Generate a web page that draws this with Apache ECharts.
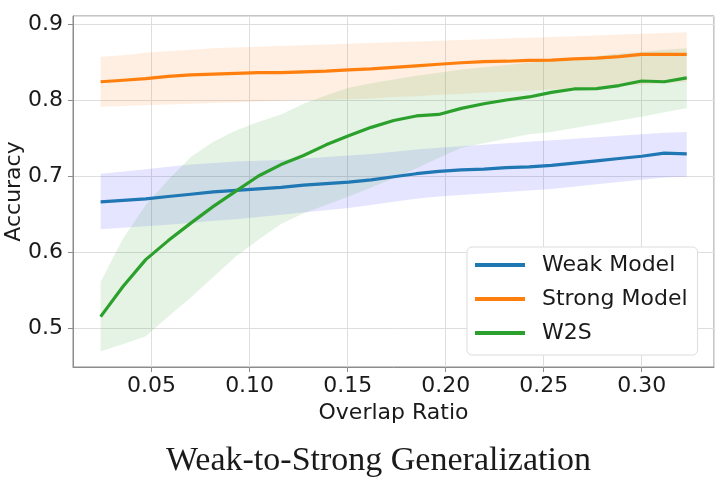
<!DOCTYPE html>
<html lang="en">
<head>
    <meta charset="utf-8">
    <script src="https://cdn.jsdelivr.net/npm/echarts@6/dist/echarts.min.js"></script>
    <title>weak_to_strong</title>
</head>
<body>
<style>
    html, body {
        margin: 0;
        background: #fff;
    }
    #main {
        width: 717px;
        height: 481px;
    }
</style>
<div id='main'></div>
<script>
    // overlap ratio (x) and mean / band values
    var ratios = [0.024, 0.0355, 0.047, 0.0585, 0.070, 0.0815, 0.093, 0.1045, 0.116, 0.1275, 0.139, 0.1505, 0.162, 0.1735,
        0.185, 0.1965, 0.208, 0.2195, 0.231, 0.2425, 0.254, 0.2655, 0.277, 0.2885, 0.300, 0.3115, 0.323];

    var weakMean = [0.666, 0.668, 0.670, 0.673, 0.676, 0.679, 0.681, 0.683, 0.685, 0.688, 0.690, 0.692, 0.695, 0.699,
        0.703, 0.706, 0.708, 0.709, 0.711, 0.712, 0.714, 0.717, 0.720, 0.723, 0.726, 0.730, 0.729];
    var weakLow = [0.630, 0.632, 0.634, 0.636, 0.638, 0.641, 0.643, 0.646, 0.649, 0.652, 0.655, 0.658, 0.662, 0.666,
        0.670, 0.673, 0.675, 0.677, 0.679, 0.681, 0.683, 0.686, 0.689, 0.692, 0.695, 0.698, 0.699];
    var weakHigh = [0.703, 0.706, 0.709, 0.712, 0.715, 0.717, 0.719, 0.720, 0.721, 0.723, 0.725, 0.727, 0.729, 0.732,
        0.735, 0.737, 0.739, 0.741, 0.743, 0.745, 0.747, 0.749, 0.751, 0.753, 0.755, 0.757, 0.758];

    var strongMean = [0.824, 0.826, 0.828, 0.831, 0.833, 0.834, 0.835, 0.836, 0.836, 0.837, 0.838, 0.8395, 0.841, 0.843,
        0.845, 0.847, 0.849, 0.8505, 0.851, 0.852, 0.8525, 0.854, 0.855, 0.857, 0.860, 0.860, 0.860];
    var strongLow = [0.791, 0.792, 0.793, 0.794, 0.795, 0.796, 0.797, 0.798, 0.799, 0.800, 0.800, 0.801, 0.802, 0.804,
        0.805, 0.807, 0.808, 0.810, 0.811, 0.812, 0.814, 0.815, 0.817, 0.819, 0.820, 0.822, 0.824];
    var strongHigh = [0.857, 0.859, 0.862, 0.864, 0.866, 0.868, 0.869, 0.870, 0.871, 0.872, 0.873, 0.874, 0.875, 0.876,
        0.877, 0.878, 0.879, 0.880, 0.881, 0.882, 0.883, 0.884, 0.885, 0.886, 0.887, 0.888, 0.889];

    var w2sMean = [0.515, 0.555, 0.590, 0.615, 0.638, 0.660, 0.680, 0.700, 0.715, 0.727, 0.741, 0.753, 0.764, 0.773,
        0.779, 0.781, 0.789, 0.795, 0.800, 0.804, 0.810, 0.8145, 0.815, 0.819, 0.825, 0.824, 0.829];
    var w2sLow = [0.469, 0.479, 0.489, 0.515, 0.540, 0.567, 0.594, 0.616, 0.637, 0.651, 0.662, 0.673, 0.685, 0.697,
        0.710, 0.724, 0.737, 0.743, 0.749, 0.755, 0.758, 0.763, 0.768, 0.773, 0.778, 0.784, 0.789];
    var w2sHigh = [0.561, 0.618, 0.662, 0.695, 0.725, 0.745, 0.760, 0.771, 0.781, 0.795, 0.806, 0.816, 0.822, 0.827,
        0.832, 0.836, 0.840, 0.843, 0.846, 0.849, 0.852, 0.855, 0.858, 0.861, 0.863, 0.866, 0.868];

    var seriesNames = ['Weak Model', 'Strong Model', 'W2S'];

    function toPairs(ys) {
        return ratios.map(function (x, i) { return [x, ys[i]]; });
    }

    // shaded band between low and high, drawn as one polygon through the axes
    function band(low, high, fill) {
        return {
            type: 'custom',
            silent: true,
            z: 1,
            data: ratios.map(function (x, i) { return [x, low[i], high[i]]; }),
            encode: {x: 0, y: [1, 2]},
            renderItem: function (params, api) {
                if (params.dataIndex !== 0) return;
                var top = ratios.map(function (x, i) { return api.coord([x, high[i]]); });
                var bottom = ratios.map(function (x, i) { return api.coord([x, low[i]]); }).reverse();
                return {
                    type: 'polygon',
                    shape: {points: top.concat(bottom)},
                    style: {fill: fill}
                };
            }
        };
    }

    function line(name, ys, color) {
        return {
            name: name,
            type: 'line',
            z: 3,
            data: toPairs(ys),
            showSymbol: false,
            lineStyle: {width: 3.2, color: color},
            itemStyle: {color: color}
        };
    }

    var tickFont = {fontFamily: 'DejaVu Sans', fontSize: 22, color: '#1a1a1a'};

    var chart = echarts.init(document.getElementById('main'));
    var option = {
        animation: false,
        backgroundColor: '#fff',
        title: {
            text: 'Weak-to-Strong Generalization',
            left: 166,
            top: 444,
            padding: 0,
            textStyle: {fontFamily: 'Liberation Serif', fontSize: 34, fontWeight: 'normal', color: '#1a1a1a'}
        },
        grid: {
            left: 73, right: 3, top: 16, bottom: 114,
            outerBoundsMode: 'none',
            containLabel: false,
            show: true, borderColor: '#8c8c8c', borderWidth: 1
        },
        legend: {
            data: seriesNames,
            orient: 'vertical',
            left: 467,
            top: 247,
            padding: [6, 10, 10, 8],
            itemWidth: 50,
            itemHeight: 4,
            itemGap: 10,
            icon: 'rect',
            backgroundColor: '#fff',
            borderColor: '#dcdcdc',
            borderWidth: 1,
            borderRadius: 5,
            textStyle: {fontFamily: 'DejaVu Sans', fontSize: 22, color: '#1a1a1a', lineHeight: 24, padding: [0, 0, 0, 12]}
        },
        xAxis: {
            type: 'value',
            min: 0.0099,
            max: 0.3369,
            name: 'Overlap Ratio',
            nameLocation: 'middle',
            nameGap: 33,
            nameTextStyle: tickFont,
            axisLine: {lineStyle: {color: '#8c8c8c'}},
            axisTick: {show: true, length: 5, lineStyle: {color: '#8c8c8c'}},
            axisLabel: Object.assign({
                margin: 8, showMinLabel: false, showMaxLabel: false,
                formatter: function (v) { return v.toFixed(2); }
            }, tickFont),
            splitLine: {show: true, lineStyle: {color: '#dedede'}}
        },
        yAxis: {
            type: 'value',
            min: 0.4487,
            max: 0.9105,
            name: 'Accuracy',
            nameLocation: 'middle',
            nameGap: 48,
            nameMoveOverlap: false,
            nameTextStyle: tickFont,
            axisLine: {show: true, lineStyle: {color: '#8c8c8c'}},
            axisTick: {show: true, length: 5, lineStyle: {color: '#8c8c8c'}},
            axisLabel: Object.assign({
                margin: 10, showMinLabel: false, showMaxLabel: false,
                formatter: function (v) { return v.toFixed(1); }
            }, tickFont),
            splitLine: {show: true, lineStyle: {color: '#dedede'}}
        },
        series: [
            band(weakLow, weakHigh, 'rgba(0, 0, 255, 0.1)'),
            band(strongLow, strongHigh, 'rgba(255, 127, 14, 0.12)'),
            band(w2sLow, w2sHigh, 'rgba(44, 160, 44, 0.12)'),
            line(seriesNames[0], weakMean, '#1f77b4'),
            line(seriesNames[1], strongMean, '#ff7f0e'),
            line(seriesNames[2], w2sMean, '#2ca02c')
        ]
    };
    chart.setOption(option);
</script>
</body>
</html>
